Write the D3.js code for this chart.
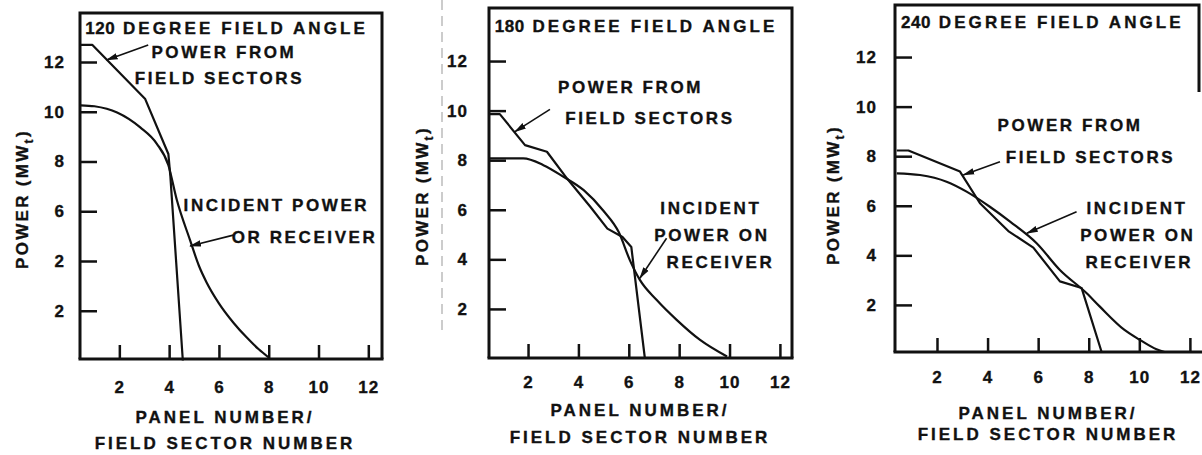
<!DOCTYPE html>
<html>
<head>
<meta charset="utf-8">
<script src="https://cdn.jsdelivr.net/npm/d3@7"></script>
<style>
    body { margin: 0; background: #fff; }
    svg { display: block; }
    text { font-family: "Liberation Sans", Arial, Helvetica, sans-serif; font-weight: bold; fill: #111; stroke: #111; stroke-width: 0.35px; }
</style>
</head>
<body>
<svg id="chart" width="1202" height="455"></svg>
<script>
// Tick values shared by all three panels
const xTicks = [2, 4, 6, 8, 10, 12];
const yTicks = [2, 4, 6, 8, 10, 12];
const yTickLabels = ["2", "4", "6", "8", "10", "12"];
const yTickLabels120 = ["2", "2", "6", "8", "10", "12"]; // printed that way in the original

// 120 degree field angle
const field120X = [0.45, 0.91, 3.04, 3.97, 4.05, 4.55];
const field120Y = [12.69, 12.69, 10.51, 8.3, 7.4, 0];
const incident120X = [0.45, 1.0, 1.91, 2.84, 3.5, 3.97, 4.31, 4.84, 5.2, 5.5, 6.0, 6.6, 7.12, 7.6, 8.0];
const incident120Y = [10.26, 10.22, 9.97, 9.37, 8.72, 7.85, 6.45, 4.84, 3.8, 3.15, 2.3, 1.5, 0.92, 0.45, 0.12];

// 180 degree field angle
const field180X = [0.48, 0.88, 1.88, 2.75, 3.55, 4.48, 5.15, 5.75, 6.1, 6.64];
const field180Y = [9.86, 9.86, 8.61, 8.34, 7.26, 6.11, 5.24, 4.9, 4.5, 0];
const incident180X = [0.48, 1.81, 2.61, 3.41, 4.21, 5.0, 5.6, 6.05, 6.44, 7.11, 7.9, 8.83, 9.9];
const incident180Y = [8.07, 8.07, 7.8, 7.33, 6.79, 5.95, 5.1, 3.95, 3.17, 2.36, 1.56, 0.75, 0.08];

// 240 degree field angle
const field240X = [0.41, 0.87, 2.91, 3.7, 4.82, 5.81, 6.86, 7.72, 8.51];
const field240Y = [8.23, 8.23, 7.38, 6.1, 4.98, 4.31, 2.95, 2.68, 0.1];
const incident240X = [0.41, 1.33, 2.38, 3.17, 4.09, 4.89, 5.94, 6.86, 7.92, 8.44, 9.4, 10.02, 10.68, 11.0];
const incident240Y = [7.31, 7.24, 6.97, 6.57, 5.96, 5.36, 4.49, 3.41, 2.47, 1.93, 1.0, 0.59, 0.21, 0.1];

const panelTitles = ["120 DEGREE FIELD ANGLE", "180 DEGREE FIELD ANGLE", "240 DEGREE FIELD ANGLE"];

// layout per panel (pixel frame + data units for labels / arrows)
const panels = [
    {
        title: panelTitles[0], titleAt: [6.31, 13.37],
        box: { left: 80, right: 382, top: 13, bottom: 359 }, rightEdgeTo: 359, axisExtra: 0,
        xDomain: [0.42, 12.55], yDomain: [0.06, 13.97],
        fieldX: field120X, fieldY: field120Y, incX: incident120X, incY: incident120Y,
        yLabels: yTickLabels120, yPad: 15, xPad: 22,
        yTitle: [22, 199], xTitle: [225, 417, 443],
        notes: [
            ["POWER FROM", 6.2, 12.4], ["FIELD SECTORS", 6.02, 11.36],
            ["INCIDENT POWER", 8.31, 6.25], ["OR RECEIVER", 9.44, 4.96],
        ],
        arrows: [[3.16, 12.68, 1.49, 12.08], [6.58, 5.04, 4.84, 4.6]],
    },
    {
        title: panelTitles[1], titleAt: [6.29, 13.41],
        box: { left: 489, right: 792, top: 8, bottom: 358 }, rightEdgeTo: 358, axisExtra: 0,
        xDomain: [0.45, 12.48], yDomain: [0.02, 14.14],
        fieldX: field180X, fieldY: field180Y, incX: incident180X, incY: incident180Y,
        yLabels: yTickLabels, yPad: 21, xPad: 18,
        yTitle: [422, 196], xTitle: [640, 410, 437],
        notes: [
            ["POWER FROM", 6.07, 10.95], ["FIELD SECTORS", 6.84, 9.7],
            ["INCIDENT", 9.26, 6.07], ["POWER ON", 9.3, 4.98], ["RECEIVER", 9.64, 3.9],
        ],
        arrows: [[2.87, 10.05, 1.48, 9.15], [7.5, 4.85, 6.44, 3.24]],
    },
    {
        title: panelTitles[2], titleAt: [6.17, 13.41],
        box: { left: 895, right: 1199, top: 5, bottom: 352 }, rightEdgeTo: 92, axisExtra: 4,
        xDomain: [0.34, 12.36], yDomain: [0.1, 14.1],
        fieldX: field240X, fieldY: field240Y, incX: incident240X, incY: incident240Y,
        yLabels: yTickLabels, yPad: 18, xPad: 19,
        yTitle: [833, 195], xTitle: [1048, 413, 434],
        notes: [
            ["POWER FROM", 7.26, 9.26], ["FIELD SECTORS", 8.07, 7.97],
            ["INCIDENT", 9.91, 5.91], ["POWER ON", 9.94, 4.82], ["RECEIVER", 10.0, 3.73],
        ],
        arrows: [[4.49, 7.78, 3.04, 7.24], [7.52, 5.76, 5.55, 4.89]],
    },
];

const ink = "#111";
const svg = d3.select("#chart");

svg.append("defs").append("marker")
    .attr("id", "head")
    .attr("markerUnits", "userSpaceOnUse")
    .attr("viewBox", "0 0 12 8")
    .attr("markerWidth", 12)
    .attr("markerHeight", 8)
    .attr("refX", 11)
    .attr("refY", 4)
    .attr("orient", "auto")
  .append("path")
    .attr("d", "M0,0.8 L12,4 L0,7.2 Z")
    .attr("fill", ink);

// faint scanner streak between the first two panels
svg.append("line")
    .attr("x1", 442).attr("x2", 442).attr("y1", 0).attr("y2", 330)
    .attr("stroke", "#999").attr("stroke-width", 1)
    .attr("stroke-dasharray", "10,6");

panels.forEach(p => {
    const b = p.box;
    const x = d3.scaleLinear(p.xDomain, [b.left, b.right]);
    const y = d3.scaleLinear(p.yDomain, [b.bottom, b.top]);
    const g = svg.append("g");

    // frame
    g.append("path")
        .attr("d", `M${b.left},${b.bottom} V${b.top} H${b.right} V${p.rightEdgeTo}`)
        .attr("fill", "none").attr("stroke", ink).attr("stroke-width", 3)
        .attr("stroke-linejoin", "miter");
    g.append("line")
        .attr("x1", b.left - 1.5).attr("x2", b.right + 1.5 + p.axisExtra)
        .attr("y1", b.bottom).attr("y2", b.bottom)
        .attr("stroke", ink).attr("stroke-width", 3);

    // axes: ticks point into the plot
    const yAxis = d3.axisLeft(y)
        .tickValues(yTicks)
        .tickFormat((d, i) => p.yLabels[i])
        .tickSizeInner(-17).tickSizeOuter(0)
        .tickPadding(p.yPad);
    g.append("g")
        .attr("transform", `translate(${b.left},0)`)
        .call(yAxis)
        .call(a => a.select(".domain").remove())
        .call(a => a.selectAll(".tick line").attr("stroke", ink).attr("stroke-width", 2.5))
        .call(a => a.selectAll(".tick text")
            .attr("fill", ink).style("font-size", "17px").style("letter-spacing", "1px")
            .attr("font-family", null));

    const xAxis = d3.axisBottom(x)
        .tickValues(xTicks)
        .tickSizeInner(-14).tickSizeOuter(0)
        .tickPadding(p.xPad);
    g.append("g")
        .attr("transform", `translate(0,${b.bottom})`)
        .call(xAxis)
        .call(a => a.select(".domain").remove())
        .call(a => a.selectAll(".tick line").attr("stroke", ink).attr("stroke-width", 2.5))
        .call(a => a.selectAll(".tick text")
            .attr("fill", ink).style("font-size", "17px").style("letter-spacing", "1px")
            .attr("font-family", null));

    // curves
    const fieldLine = d3.line()
        .x(i => x(p.fieldX[i])).y(i => y(p.fieldY[i]))
        .curve(d3.curveLinear);
    const incLine = d3.line()
        .x(i => x(p.incX[i])).y(i => y(p.incY[i]))
        .curve(d3.curveMonotoneX);

    g.append("path")
        .attr("d", fieldLine(d3.range(p.fieldX.length)))
        .attr("fill", "none").attr("stroke", ink).attr("stroke-width", 2.2)
        .attr("stroke-linejoin", "round");
    g.append("path")
        .attr("d", incLine(d3.range(p.incX.length)))
        .attr("fill", "none").attr("stroke", ink).attr("stroke-width", 2.2);

    // title inside the frame: the figures are set tighter than the words
    const cut = p.title.indexOf(" ");
    const title = g.append("text")
        .attr("x", x(p.titleAt[0])).attr("y", y(p.titleAt[1]))
        .attr("dy", "0.36em").attr("text-anchor", "middle")
        .style("font-size", "17px");
    title.append("tspan").style("letter-spacing", "0.5px").text(p.title.slice(0, cut));
    title.append("tspan").style("letter-spacing", "3.1px").text(p.title.slice(cut));

    // annotation labels + arrows
    g.selectAll("text.note")
        .data(p.notes)
        .join("text")
            .attr("class", "note")
            .attr("x", d => x(d[1])).attr("y", d => y(d[2]))
            .attr("dy", "0.36em").attr("text-anchor", "middle")
            .style("font-size", "17px").style("letter-spacing", "2.6px")
            .text(d => d[0]);

    g.selectAll("line.arrow")
        .data(p.arrows)
        .join("line")
            .attr("class", "arrow")
            .attr("x1", d => x(d[0])).attr("y1", d => y(d[1]))
            .attr("x2", d => x(d[2])).attr("y2", d => y(d[3]))
            .attr("stroke", ink).attr("stroke-width", 1.6)
            .attr("marker-end", "url(#head)");

    // axis titles
    const yt = g.append("text")
        .attr("transform", `translate(${p.yTitle[0]},${p.yTitle[1]}) rotate(-90)`)
        .attr("dy", "0.36em").attr("text-anchor", "middle")
        .style("font-size", "17px").style("letter-spacing", "2.3px");
    yt.append("tspan").text("POWER (MW");
    yt.append("tspan").attr("dy", "5").style("font-size", "12px").text("t");
    yt.append("tspan").attr("dy", "-5").text(")");

    g.selectAll("text.xtitle")
        .data(["PANEL NUMBER/", "FIELD SECTOR NUMBER"])
        .join("text")
            .attr("class", "xtitle")
            .attr("x", p.xTitle[0]).attr("y", (d, i) => p.xTitle[i + 1])
            .attr("dy", "0.36em").attr("text-anchor", "middle")
            .style("font-size", "17px").style("letter-spacing", "3px")
            .text(d => d);
});
</script>
</body>
</html>
